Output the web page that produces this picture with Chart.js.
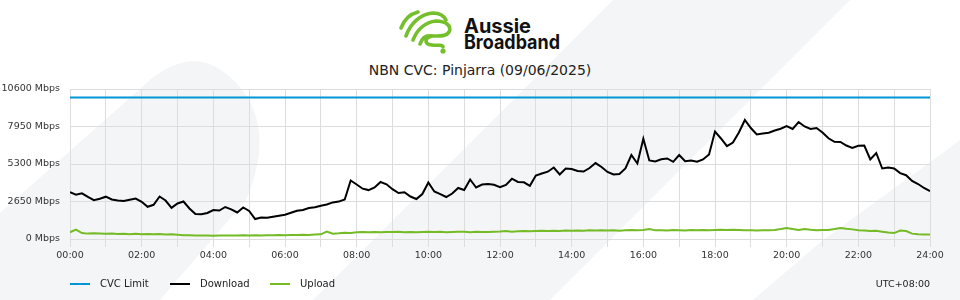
<!DOCTYPE html>
<html>
<head>
<meta charset="utf-8">
<script src="https://cdn.jsdelivr.net/npm/chart.js@4.4.1/dist/chart.umd.min.js"></script>
<style>
  html, body { margin:0; padding:0; background:#fff; }
  #wrap { position:relative; width:960px; height:300px; overflow:hidden; font-family:"DejaVu Sans", sans-serif; }
  #bg, #logo { position:absolute; left:0; top:0; }
  #c { position:absolute; left:0; top:0; }
  #title { position:absolute; left:0; width:960px; top:61px; text-align:center; font-size:14px; line-height:18px; color:#222; }
  .lg { position:absolute; top:278px; font-size:10px; line-height:12px; color:#222; }
  .sw { position:absolute; top:283px; width:20px; height:2px; }
  #utc { position:absolute; right:30px; top:278px; font-size:9.5px; line-height:12px; color:#222; }
</style>
</head>
<body>
<div id="wrap">
  <svg id="bg" width="960" height="300">
    <path d="M0,213 L150,80 Q205,35 248,98 Q272,140 246,200 L160,300 L0,300 Z" fill="#f4f5f7"/>
    <path d="M613,0 L850,0 L550,300 L313,300 Z" fill="#f4f5f7"/>
    <path d="M753,300 L823,240 L940,155 L960,140 L960,300 Z" fill="#f4f5f7"/>
  </svg>
  <svg id="logo" width="960" height="60">
    <g fill="none" stroke="#74bf2c" stroke-width="3.6" stroke-linecap="round">
      <path d="M401,28 C404,20 410,14 418,12"/>
      <path d="M406,36 C410,24 420,14 433,13 C440,13 444,16 446,20"/>
      <path d="M413,40 C417,30 425,22 436,21 C446,21 452,26 449,32 C446,37 438,36 432,36"/>
      <path d="M420,44 C422,38 426,35 432,36 C424,38 424,44 432,45 C438,46 443,44 443,47"/>
    </g>
    <circle cx="443" cy="51" r="2.6" fill="#74bf2c"/>
    <text x="464" y="33" font-family="Inter, 'Liberation Sans', sans-serif" font-weight="700" font-size="20" fill="#111" textLength="67" lengthAdjust="spacingAndGlyphs">Aussie</text>
    <text x="464" y="48.5" font-family="Inter, 'Liberation Sans', sans-serif" font-weight="700" font-size="20" fill="#111" textLength="96" lengthAdjust="spacingAndGlyphs">Broadband</text>
  </svg>
  <div id="title">NBN CVC: Pinjarra (09/06/2025)</div>
  <canvas id="c" width="960" height="300"></canvas>
  <div class="sw" style="left:70px;background:#0096d6"></div><div class="lg" style="left:100px">CVC Limit</div>
  <div class="sw" style="left:170px;background:#000"></div><div class="lg" style="left:200px">Download</div>
  <div class="sw" style="left:270px;background:#74bb25"></div><div class="lg" style="left:300px">Upload</div>
  <div id="utc">UTC+08:00</div>
</div>
<script>
const stepMinutes = 10;
const cvcLimit = 10000;
const yTickValues = [0, 2650, 5300, 7950, 10600];
const xTickLabels = ['00:00','02:00','04:00','06:00','08:00','10:00','12:00','14:00','16:00','18:00','20:00','22:00','24:00'];
const download = [
  3307,3131,3230,2975,2742,2841, 2989,2791,2721,2685,2777,2862,
  2629,2276,2417,3003,2721,2205, 2509,2650,2155,1767,1753,1837,
  2049,2014,2261,2099,1873,2226, 1979,1413,1519,1498,1569,1640,
  1710,1852,2000,2056,2184,2240, 2346,2438,2587,2643,2791,4134,
  3852,3555,3456,3640,4028,3866, 3519,3251,3300,3003,2827,3180,
  3993,3357,3166,2968,3215,3604, 3463,4205,3640,3852,3894,3830,
  3661,3816,4261,4035,4007,3760, 4488,4629,4756,5053,4558,4982,
  4947,4806,4770,5018,5364,5088, 4735,4558,4594,4982,5936,5336,
  7081,5548,5477,5632,5689,5456, 5936,5498,5548,5456,5618,5971,
  7597,7102,6558,6820,7526,8410, 7844,7385,7456,7505,7668,7795,
  7986,7774,8268,7950,7774,7844, 7526,7116,6869,6855,6608,6431,
  6586,6608,5618,6078,4982,5053, 4982,4657,4509,4099,3887,3604,
  3378
];
const upload = [
  480,660,420,380,400,390, 370,390,350,370,340,370,
  340,360,330,350,320,330, 300,270,260,250,240,250,
  230,250,240,250,240,260, 250,270,250,260,260,280,
  270,290,280,300,290,310, 330,520,370,400,450,430,
  480,500,470,490,480,500, 490,510,480,500,470,500,
  520,490,510,480,500,520, 510,480,520,500,490,510,
  530,560,520,540,560,540, 560,580,560,590,570,600,
  580,600,590,620,600,610, 600,620,590,610,630,620,
  640,700,610,620,600,630, 620,600,630,610,630,620,
  640,650,630,660,640,620, 610,600,620,610,630,700,
  780,700,640,700,650,620, 630,640,700,780,720,680,
  620,600,560,580,520,460, 420,600,560,380,330,320,
  320
];

const toPoints = arr => arr.map((v, i) => ({ x: i * stepMinutes, y: v }));
const dayMinutes = (download.length - 1) * stepMinutes;

Chart.defaults.font.family = '"DejaVu Sans", sans-serif';
const gridColor = '#dddddd';
const tickFont = { size: 9.5 };

new Chart(document.getElementById('c'), {
  type: 'line',
  data: {
    datasets: [
      { label: 'CVC Limit', data: [{x:0,y:cvcLimit},{x:dayMinutes,y:cvcLimit}], borderColor:'#0096d6', backgroundColor:'#0096d6', borderWidth:2, pointRadius:0, tension:0 },
      { label: 'Download', data: toPoints(download), borderColor:'#000', backgroundColor:'#000', borderWidth:2, pointRadius:0, tension:0 },
      { label: 'Upload', data: toPoints(upload), borderColor:'#74bb25', backgroundColor:'#74bb25', borderWidth:2, pointRadius:0, tension:0 }
    ]
  },
  options: {
    responsive: false,
    animation: false,
    layout: { padding: { top: 89, right: 30, bottom: 31, left: 0 } },
    plugins: { legend: { display: false }, tooltip: { enabled: false }, title: { display: false } },
    scales: {
      x: {
        type: 'linear', min: 0, max: dayMinutes,
        afterBuildTicks: s => { const t = []; for (let m = 0; m <= dayMinutes; m += 60) t.push({ value: m }); s.ticks = t; },
        ticks: { autoSkip: false, maxRotation: 0, padding: 3, color: '#333', font: tickFont,
                 callback: v => (v % 120 === 0 ? xTickLabels[v / 120] : '') },
        grid: { color: gridColor, tickLength: 8, lineWidth: 1 },
        border: { color: gridColor },
        afterFit: s => { s.height = 30; }
      },
      y: {
        min: 0, max: yTickValues[yTickValues.length - 1],
        afterBuildTicks: s => { s.ticks = yTickValues.map(v => ({ value: v })); },
        ticks: { padding: 10, color: '#333', font: tickFont, callback: v => v + ' Mbps' },
        grid: { color: gridColor, drawTicks: false, lineWidth: 1 },
        border: { color: gridColor },
        afterFit: s => { s.width = 70; }
      }
    }
  }
});
</script>
</body>
</html>
